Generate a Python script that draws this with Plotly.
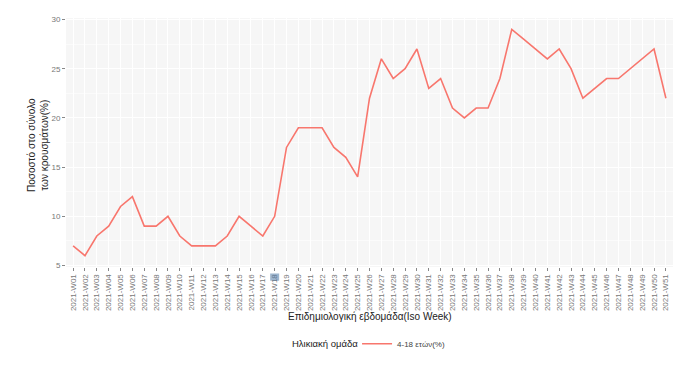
import plotly.graph_objects as go

weeks = [f"2021-W{i:02d}" for i in range(1, 52)]
values = [7, 6, 8, 9, 11, 12, 9, 9, 10, 8,
          7, 7, 7, 8, 10, 9, 8, 10, 17, 19,
          19, 19, 17, 16, 14, 22, 26, 24, 25, 27,
          23, 24, 21, 20, 21, 21, 24, 29, 28, 27,
          26, 27, 25, 22, 23, 24, 24, 25, 26, 27, 22]
series_name = "4-18 ετών(%)"
legend_title = "Ηλικιακή ομάδα"
y_ticks = [5, 10, 15, 20, 25, 30]

FONT = "Liberation Sans, Arial, sans-serif"

# the page body has an 8px default margin; margins below compensate for it
fig = go.Figure()
fig.add_trace(go.Scatter(
    x=weeks, y=values, mode="lines", name=series_name,
    line=dict(color="#F8766D", width=1.6),
))

fig.update_layout(
    width=700, height=371,
    margin=dict(l=58, r=35, t=10, b=112),
    paper_bgcolor="white",
    plot_bgcolor="#F6F6F6",
    font=dict(family=FONT, color="#333"),
    showlegend=True,
    legend=dict(
        orientation="h", x=0.4795, xanchor="left", y=-0.308, yanchor="middle",
        font=dict(size=8, color="#444"),
        itemwidth=30,
        bgcolor="rgba(0,0,0,0)",
    ),
    xaxis=dict(
        type="category", categoryorder="array", categoryarray=weeks,
        range=[-0.6, len(weeks) - 1 + 0.6],
        tickangle=-90, tickfont=dict(size=8, color="#777"),
        ticks="outside", ticklen=3, tickcolor="#888", tickwidth=1,
        showgrid=True, gridcolor="white", gridwidth=1,
        zeroline=False, showline=False,
        automargin=False,
    ),
    yaxis=dict(
        range=[4.85, 30.15], tickvals=y_ticks,
        tickfont=dict(size=8, color="#777"),
        ticks="outside", ticklen=3, tickcolor="#888", tickwidth=1,
        showgrid=True, gridcolor="white", gridwidth=1,
        minor=dict(dtick=2.5, showgrid=True, gridcolor="#FBFBFB", gridwidth=0.6),
        zeroline=False, showline=False,
        automargin=False,
    ),
    annotations=[
        dict(text="Επιδημιολογική εβδομάδα(Iso Week)", xref="paper", yref="paper",
             x=0.5, y=-0.2, yanchor="middle", showarrow=False,
             font=dict(size=10, color="#222")),
        dict(text="Ποσοστό στο σύνολο<br>των κρουσμάτων(%)", xref="paper", yref="paper",
             x=-0.046, y=0.49, xanchor="center", yanchor="middle", textangle=-90,
             showarrow=False, font=dict(size=10, color="#222")),
        dict(text=legend_title, xref="paper", yref="paper",
             x=0.4845, y=-0.308, xanchor="right", yanchor="middle", showarrow=False,
             font=dict(size=9.5, color="#222")),
    ],
    shapes=[
        dict(type="rect", xref="x", yref="paper", x0=16.62, x1=17.38,
             y0=-0.055, y1=-0.026, fillcolor="#4f7aa8", opacity=0.55,
             line=dict(width=0), layer="above"),
    ],
)

fig.write_html("out.html")
